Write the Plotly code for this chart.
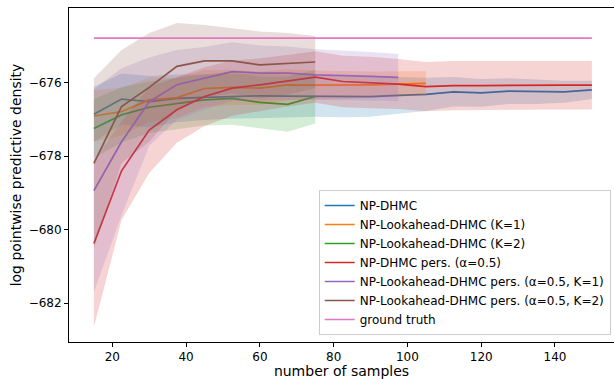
import plotly.graph_objects as go

# ---- data ----
x_full = [15, 22.5, 30, 37.5, 45, 52.5, 60, 67.5, 75, 82.5, 90, 97.5, 105,
          112.5, 120, 127.5, 135, 142.5, 150]

np_dhmc_mean = [-676.86, -676.45, -676.52, -676.43, -676.40, -676.38, -676.36, -676.37, -676.37,
                -676.39, -676.38, -676.35, -676.32, -676.25, -676.28, -676.23, -676.25, -676.25, -676.20]
np_dhmc_std = [0.75, 0.70, 0.70, 0.65, 0.62, 0.60, 0.60, 0.58, 0.56, 0.55, 0.55, 0.50, 0.45,
               0.40, 0.38, 0.35, 0.33, 0.30, 0.25]

la1_mean = [-676.91, -676.79, -676.47, -676.41, -676.16, -676.13, -676.15, -676.06, -676.07,
            -676.07, -676.06, -676.04, -676.02]
la1_std = [0.70, 0.65, 0.60, 0.55, 0.50, 0.48, 0.45, 0.42, 0.40, 0.38, 0.36, 0.35, 0.33]

la2_mean = [-677.25, -676.88, -676.67, -676.56, -676.47, -676.43, -676.54, -676.59, -676.38]
la2_std = [0.80, 0.75, 0.70, 0.70, 0.70, 0.72, 0.70, 0.75, 0.73]

pers_mean = [-680.38, -678.40, -677.29, -676.74, -676.38, -676.15, -676.06, -675.95, -675.85,
             -675.97, -676.00, -676.04, -676.11, -676.08, -676.08, -676.07, -676.07, -676.07, -676.07]
pers_std = [2.27, 1.34, 1.17, 0.90, 0.80, 0.75, 0.72, 0.70, 0.70, 0.70, 0.70, 0.68, 0.67,
            0.67, 0.66, 0.66, 0.66, 0.66, 0.66]

pers_la1_mean = [-678.94, -677.61, -676.52, -676.06, -675.88, -675.70, -675.74, -675.74, -675.79,
                 -675.80, -675.83, -675.86]
pers_la1_std = [2.76, 2.00, 1.20, 0.95, 0.85, 0.80, 0.75, 0.72, 0.70, 0.68, 0.66, 0.64]

pers_la2_mean = [-678.20, -676.65, -676.13, -675.56, -675.41, -675.41, -675.52, -675.49, -675.44]
pers_la2_std = [2.32, 1.54, 1.48, 1.18, 0.98, 0.89, 0.91, 0.84, 0.71]

ground_truth = -674.79

labels = ["NP-DHMC", "NP-Lookahead-DHMC (K=1)", "NP-Lookahead-DHMC (K=2)",
          "NP-DHMC pers. (α=0.5)", "NP-Lookahead-DHMC pers. (α=0.5, K=1)",
          "NP-Lookahead-DHMC pers. (α=0.5, K=2)", "ground truth"]
colors = ["#1f77b4", "#ff7f0e", "#2ca02c", "#d62728", "#9467bd", "#8c564b", "#e377c2"]

series = [(np_dhmc_mean, np_dhmc_std), (la1_mean, la1_std), (la2_mean, la2_std),
          (pers_mean, pers_std), (pers_la1_mean, pers_la1_std), (pers_la2_mean, pers_la2_std)]


def rgba(hexc, a):
    h = hexc.lstrip("#")
    return "rgba(%d,%d,%d,%.2f)" % (int(h[0:2], 16), int(h[2:4], 16), int(h[4:6], 16), a)


fig = go.Figure()
for (m, s), lab, c in zip(series, labels, colors):
    xs = x_full[:len(m)]
    upper = [a + b for a, b in zip(m, s)]
    lower = [a - b for a, b in zip(m, s)]
    fig.add_trace(go.Scatter(x=xs, y=m, mode="lines", name=lab,
                             line=dict(color=c, width=1.7)))
    fig.add_trace(go.Scatter(x=xs + xs[::-1], y=upper + lower[::-1], mode="lines",
                             fill="toself", fillcolor=rgba(c, 0.2), line=dict(width=0),
                             showlegend=False, hoverinfo="skip"))

fig.add_trace(go.Scatter(x=[x_full[0], x_full[-1]], y=[ground_truth, ground_truth],
                         mode="lines", name=labels[6], line=dict(color=colors[6], width=1.7)))

font = "DejaVu Sans"
fig.update_layout(
    width=614, height=379,
    margin=dict(l=69, r=0, t=8, b=37),
    paper_bgcolor="white", plot_bgcolor="white",
    font=dict(family=font, size=12, color="#000000"),
    showlegend=True,
    legend=dict(x=0.994, y=0.021, xanchor="right", yanchor="bottom",
                bgcolor="rgba(255,255,255,0.8)", bordercolor="#cccccc", borderwidth=1,
                font=dict(family=font, size=12), tracegroupgap=0),
)
fig.update_xaxes(range=[8.25, 156.0], tickvals=[20, 40, 60, 80, 100, 120, 140],
                 showgrid=False, zeroline=False, showline=True, linecolor="#000000",
                 linewidth=1, mirror=True, ticks="outside", ticklen=4, tickcolor="#000000",
                 title=dict(text="number of samples", standoff=4))
fig.update_yaxes(range=[-683.06, -673.97], tickvals=[-682, -680, -678, -676],
                 showgrid=False, zeroline=False, showline=True, linecolor="#000000",
                 linewidth=1, ticks="outside", ticklen=4, tickcolor="#000000",
                 title=dict(text="log pointwise predictive density", standoff=3))

fig.write_html("out.html", config={"displayModeBar": False},
               post_script="document.body.style.margin='0';document.body.style.overflow='hidden';")
